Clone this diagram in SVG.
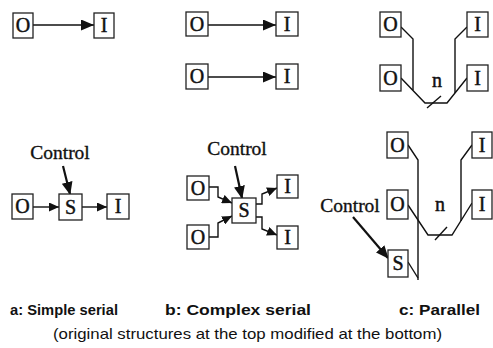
<svg xmlns="http://www.w3.org/2000/svg" width="493" height="348" viewBox="0 0 493 348">
  <style>
    .box { fill: #ffffff; stroke: #222; stroke-width: 1.3; }
    .lbl { font-family: "Liberation Serif", "Times New Roman", serif; font-size: 20px; fill: #111; stroke: #111; stroke-width: 0.45; text-anchor: middle; }
    .ctl { font-family: "Liberation Serif", "Times New Roman", serif; font-size: 19.5px; fill: #111; stroke: #111; stroke-width: 0.35; text-anchor: middle; }
    .wire { fill: none; stroke: #111; stroke-width: 1.4; stroke-linejoin: miter; }
    .thick { fill: none; stroke: #111; stroke-width: 2.2; }
    .cap { font-family: "Liberation Sans", Arial, sans-serif; font-size: 15.5px; font-weight: bold; fill: #111; }
    .note { font-family: "Liberation Sans", Arial, sans-serif; font-size: 15px; fill: #111; }
  </style>
  <defs>
    <marker id="head" markerUnits="userSpaceOnUse" markerWidth="13" markerHeight="11" refX="13" refY="5.5" orient="auto">
      <path d="M0,0 L13,5.5 L0,11 Z" fill="#111"/>
    </marker>
    <marker id="headS" markerUnits="userSpaceOnUse" markerWidth="10" markerHeight="9" refX="10" refY="4.5" orient="auto">
      <path d="M0,0 L10,4.5 L0,9 Z" fill="#111"/>
    </marker>
    <marker id="headC" markerUnits="userSpaceOnUse" markerWidth="13" markerHeight="11" refX="12" refY="5.5" orient="auto">
      <path d="M0,0 L13,5.5 L0,11 Z" fill="#111"/>
    </marker>
  </defs>

  <!-- connectors -->
  <g id="connectors">
    <!-- a: simple serial, original -->
    <line class="wire" x1="33" y1="25" x2="94" y2="25" marker-end="url(#head)"/>
    <!-- b: complex serial, original -->
    <line class="wire" x1="208" y1="25" x2="276" y2="25" marker-end="url(#head)"/>
    <line class="wire" x1="208" y1="77" x2="276" y2="77" marker-end="url(#head)"/>
    <!-- c: parallel, original -->
    <polyline class="wire" points="401,27 413,39 413,90"/>
    <polyline class="wire" points="401,78 425,103 447,103 467,78"/>
    <polyline class="wire" points="467,27 455,39 455,93"/>
    <line class="wire" x1="427" y1="108" x2="441" y2="96"/>

    <!-- a: simple serial, modified -->
    <line class="wire" x1="33" y1="207" x2="59" y2="207" marker-end="url(#headS)"/>
    <line class="wire" x1="82" y1="207" x2="107" y2="207" marker-end="url(#headS)"/>
    <line class="thick" x1="63" y1="166" x2="70" y2="194" marker-end="url(#headC)"/>
    <!-- b: complex serial, modified -->
    <polyline class="wire" points="209,187 218,187 218,197 232,203" marker-end="url(#headS)"/>
    <polyline class="wire" points="209,237 218,237 218,223 232,216" marker-end="url(#headS)"/>
    <polyline class="wire" points="256,204 262,204 262,194 277,188" marker-end="url(#headS)"/>
    <polyline class="wire" points="256,217 262,217 262,229 277,235" marker-end="url(#headS)"/>
    <line class="thick" x1="235" y1="166" x2="242" y2="198" marker-end="url(#headC)"/>
    <!-- c: parallel, modified -->
    <polyline class="wire" points="408,145 418,160 418,280"/>
    <polyline class="wire" points="408,205 428,235 452,235 472,203"/>
    <polyline class="wire" points="472,145 461,160 461,221"/>
    <polyline class="wire" points="408,262 418,278"/>
    <line class="wire" x1="435" y1="240" x2="447" y2="227"/>
    <line class="thick" x1="353" y1="217" x2="388" y2="258" marker-end="url(#headC)"/>
  </g>

  <!-- a: simple serial, original -->
  <g id="a-top-O"><rect class="box" x="13" y="13" width="20" height="25"/><text class="lbl" x="23" y="32">O</text></g>
  <g id="a-top-I"><rect class="box" x="94" y="13" width="20" height="25"/><text class="lbl" x="104" y="32">I</text></g>

  <!-- b: complex serial, original -->
  <g id="b-top-O1"><rect class="box" x="186" y="12" width="22" height="24"/><text class="lbl" x="197" y="31">O</text></g>
  <g id="b-top-I1"><rect class="box" x="276" y="12" width="22" height="24"/><text class="lbl" x="287" y="31">I</text></g>
  <g id="b-top-O2"><rect class="box" x="186" y="64" width="22" height="25"/><text class="lbl" x="197" y="83">O</text></g>
  <g id="b-top-I2"><rect class="box" x="276" y="64" width="22" height="25"/><text class="lbl" x="287" y="83">I</text></g>

  <!-- c: parallel, original -->
  <g id="c-top-O1"><rect class="box" x="380" y="12" width="21" height="25"/><text class="lbl" x="390.5" y="31">O</text></g>
  <g id="c-top-I1"><rect class="box" x="467" y="12" width="21" height="25"/><text class="lbl" x="477.5" y="31">I</text></g>
  <g id="c-top-O2"><rect class="box" x="380" y="65" width="21" height="26"/><text class="lbl" x="390.5" y="84.5">O</text></g>
  <g id="c-top-I2"><rect class="box" x="467" y="65" width="21" height="26"/><text class="lbl" x="477.5" y="84.5">I</text></g>
  <g id="c-top-n"><text class="lbl" x="437" y="87">n</text></g>

  <!-- a: simple serial, modified -->
  <g id="a-ctl"><text class="ctl" x="60" y="159">Control</text></g>
  <g id="a-bot-O"><rect class="box" x="12" y="194" width="21" height="25"/><text class="lbl" x="22.5" y="213">O</text></g>
  <g id="a-bot-S"><rect class="box" x="59" y="194" width="23" height="26"/><text class="lbl" x="70.5" y="213.5">S</text></g>
  <g id="a-bot-I"><rect class="box" x="107" y="194" width="22" height="25"/><text class="lbl" x="118" y="213">I</text></g>

  <!-- b: complex serial, modified -->
  <g id="b-ctl"><text class="ctl" x="237" y="155">Control</text></g>
  <g id="b-bot-O1"><rect class="box" x="187" y="176" width="22" height="24"/><text class="lbl" x="198" y="194.5">O</text></g>
  <g id="b-bot-O2"><rect class="box" x="187" y="225" width="22" height="24"/><text class="lbl" x="198" y="243.5">O</text></g>
  <g id="b-bot-S"><rect class="box" x="232" y="198" width="24" height="25"/><text class="lbl" x="244" y="217">S</text></g>
  <g id="b-bot-I1"><rect class="box" x="277" y="175" width="21" height="23"/><text class="lbl" x="287.5" y="193">I</text></g>
  <g id="b-bot-I2"><rect class="box" x="277" y="226" width="21" height="23"/><text class="lbl" x="287.5" y="244">I</text></g>

  <!-- c: parallel, modified -->
  <g id="c-ctl"><text class="ctl" x="350" y="212">Control</text></g>
  <g id="c-bot-O1"><rect class="box" x="387" y="132" width="21" height="26"/><text class="lbl" x="397.5" y="151.5">O</text></g>
  <g id="c-bot-I1"><rect class="box" x="472" y="132" width="20" height="26"/><text class="lbl" x="482" y="151.5">I</text></g>
  <g id="c-bot-O2"><rect class="box" x="387" y="190" width="21" height="29"/><text class="lbl" x="397.5" y="211">O</text></g>
  <g id="c-bot-I2"><rect class="box" x="472" y="190" width="20" height="29"/><text class="lbl" x="482" y="211">I</text></g>
  <g id="c-bot-S"><rect class="box" x="388" y="250" width="20" height="27"/><text class="lbl" x="398" y="270">S</text></g>
  <g id="c-bot-n"><text class="lbl" x="440" y="211">n</text></g>

  <!-- captions -->
  <text class="cap" x="10" y="315" textLength="108" lengthAdjust="spacingAndGlyphs">a: Simple serial</text>
  <text class="cap" x="165" y="315" textLength="146" lengthAdjust="spacingAndGlyphs">b: Complex serial</text>
  <text class="cap" x="399" y="315" textLength="81" lengthAdjust="spacingAndGlyphs">c: Parallel</text>
  <text class="note" x="53" y="339" textLength="389" lengthAdjust="spacingAndGlyphs">(original structures at the top modified at the bottom)</text>
</svg>
